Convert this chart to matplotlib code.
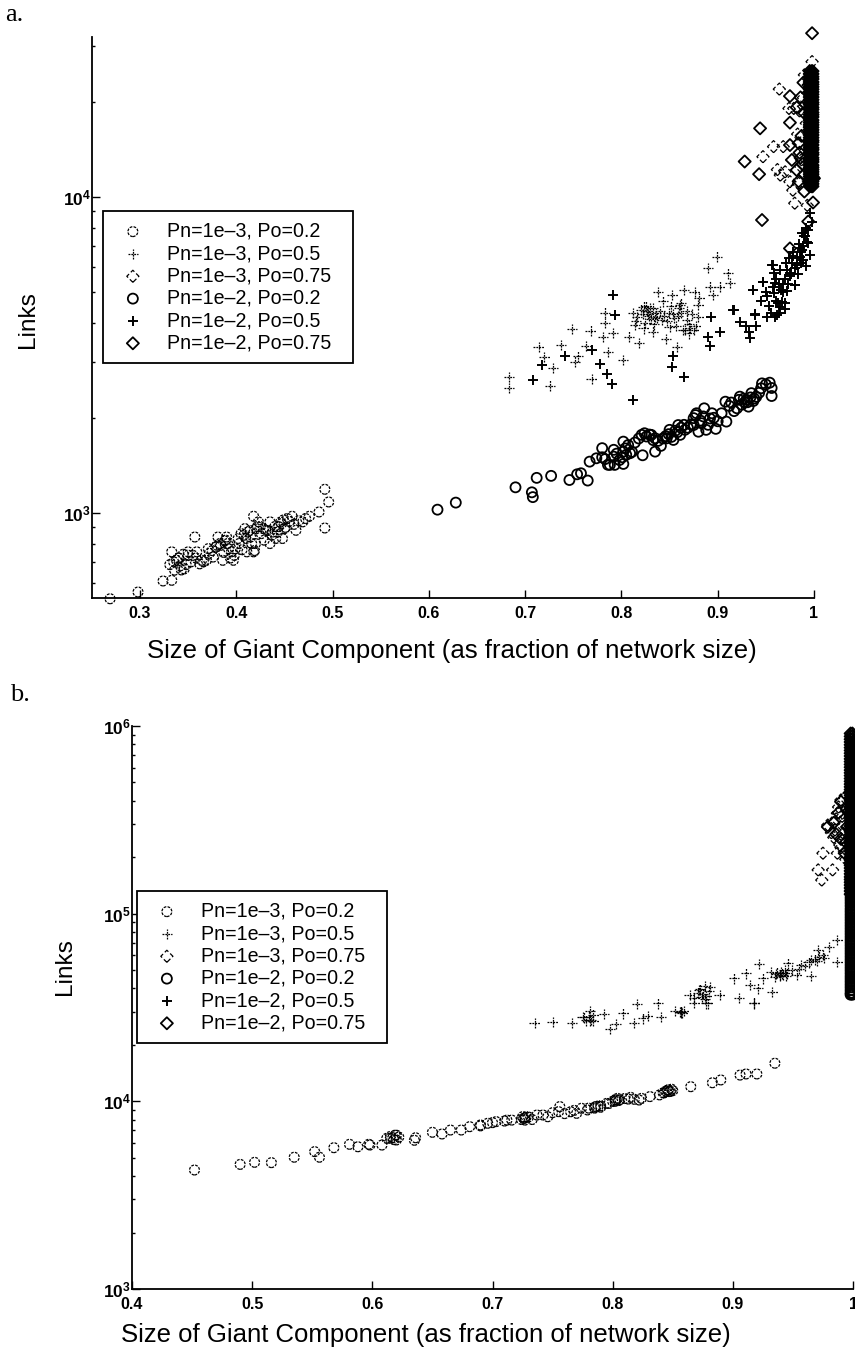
"""
plot.py

Giant component size vs number of links, two log-y scatter panels.
"""

import matplotlib
matplotlib.use("Agg")
import matplotlib.pyplot as plt
from matplotlib.ticker import FixedLocator, NullFormatter

plt.rcParams["font.family"] = ["Liberation Sans", "DejaVu Sans"]
plt.rcParams["mathtext.fontset"] = "custom"
plt.rcParams["mathtext.bf"] = "Liberation Sans:bold"
plt.rcParams["mathtext.rm"] = "Liberation Sans"

W, H = 855, 1350

LABELS = ["Pn=1e\u20133, Po=0.2", "Pn=1e\u20133, Po=0.5", "Pn=1e\u20133, Po=0.75",
          "Pn=1e\u20132, Po=0.2", "Pn=1e\u20132, Po=0.5", "Pn=1e\u20132, Po=0.75"]
XLABEL = "Size of Giant Component (as fraction of network size)"

# -------------------------
# Panel a data
# -------------------------

a1_x = [.269, .298, .324, .333, .331, .333, .338, .336, .348, .343, .357, .350, .355, .359, .364, .369,
        .371, .381, .383, .386, .390, .391, .395, .398, .397, .402, .409, .411, .418, .420, .415, .418,
        .423, .421, .428, .435, .435, .431, .441, .448, .450, .453, .458, .462, .469, .476, .486, .496,
        .492, .492, .340, .345, .375, .380, .388, .392, .405, .410, .414, .425, .438, .444, .447, .449,
        .335, .34, .342, .346, .35, .353, .358, .362, .366, .372, .376, .379, .384, .387, .389, .394, .399,
        .403, .406, .408, .412, .416, .419, .422, .426, .429, .433, .437, .44, .443, .446, .451, .455, .46,
        .465, .472]
a1_y = [535, 562, 609, 612, 686, 753, 708, 659, 686, 660, 839, 753, 734, 753, 708, 708,
        771, 839, 800, 708, 839, 800, 753, 734, 708, 830, 892, 753, 753, 800, 839, 976, 937,
        892, 892, 800, 937, 881, 830, 830, 892, 960, 976, 881, 937, 976, 1007, 1083,
        1188, 896, 720, 740, 760, 790, 815, 770, 860, 830, 880, 905, 870, 905, 925, 950,
        700, 720, 680, 665, 735, 700, 720, 690, 700, 745, 725, 780, 790, 750, 820, 720, 770,
        800, 765, 850, 870, 800, 760, 905, 860, 820, 880, 850, 905, 870, 935, 900, 940, 920,
        945, 960]

a2_x = [.683, .683, .714, .720, .729, .726, .737, .749, .752, .755, .763, .768, .769, .783, .783, .781,
        .786, .791, .802, .808, .816, .814, .818, .823, .823, .833, .833, .838, .835, .842, .843, .846,
        .850, .853, .855, .860, .865, .858, .864, .868, .876, .880, .881, .875, .890, .899, .911, .913,
        .892, .895, .902, .880, .827, .829, .831, .836, .861, .862, .870, .871,
        .812, .815, .82, .822, .825, .826, .828, .83, .834, .837, .84, .844, .847, .849, .852, .854, .857,
        .859, .862, .866, .868, .87, .873, .877]
a2_y = [2698, 2483, 3357, 3112, 2871, 2529, 3404, 3819, 3013, 3126, 3373, 3776, 2649, 4305, 3981, 3597,
        3236, 3707, 3048, 3614, 4178, 3936, 3443, 3837, 4498, 3750, 4446, 5012, 4178, 4083, 4667, 3548,
        3873, 4898, 4130, 4446, 5082, 3342, 3793, 4083, 5012, 4178, 4775, 3793, 5943, 6471, 5728, 5333,
        5200, 4898, 5200, 4550, 4350, 4200, 4100, 4300, 4550, 4300, 3950, 3850,
        4300, 4050, 4400, 4250, 4000, 4500, 4250, 4450, 3950, 4150, 4350, 4200, 4050, 4300, 4500, 4250, 3900,
        4200, 4600, 3800, 4350, 3700, 4250, 3900]

a3_x = [.998, .990, .964, .974, .979, .958, .947, .968, .965, .984, .975, .980, .993, .985, .989, .983,
        .992, .994, .987, .970, .978, .986, .991, .962]
a3_y = [26790, 24320, 21930, 19050, 19050, 14420, 13400, 14420, 11720, 11040, 11170, 9550, 9400, 18700,
        20600, 15800, 17100, 22600, 13100, 12000, 10500, 12500, 14000, 12200]

a4_x = [.609, .628, .690, .707, .708, .712, .727, .746, .754, .758, .765, .767, .774, .780, .780, .788,
        .793, .802, .792, .792, .802, .802, .805, .809, .814, .822, .821, .824, .831, .835, .835, .841,
        .847, .850, .854, .859, .861, .866, .875, .878, .880, .886, .888, .894, .898, .904, .909, .908,
        .914, .920, .923, .930, .932, .935, .946, .954, .956, .956, .875, .883, .945, .950, .938, .928,
        .783, .786, .795, .798, .801, .804, .807, .811, .818, .826, .829, .833, .838, .843, .846, .849, .852,
        .856, .858, .862, .865, .869, .872, .877, .882, .885, .89, .892, .896, .90, .912, .917, .922, .925,
        .927, .931, .934, .937, .94, .943]
a4_y = [1024, 1078, 1205, 1162, 1122, 1291, 1310, 1271, 1325, 1335, 1266, 1453, 1489, 1500, 1603, 1419,
        1419, 1429, 1584, 1507, 1681, 1563, 1527, 1545, 1670, 1522, 1766, 1787, 1766, 1723, 1563, 1630,
        1722, 1832, 1702, 1897, 1766, 1832, 1995, 2067, 1807, 2143, 1832, 2067, 1845, 2067, 1945, 2249,
        2235, 2143, 2333, 2280, 2169, 2393, 2570, 2583, 2485, 2344, 1897, 1923, 2480, 2550, 2300, 2240,
        1480, 1420, 1540, 1470, 1500, 1600, 1640, 1560, 1720, 1745, 1770, 1700, 1690, 1720, 1750, 1775, 1740,
        1820, 1800, 1860, 1900, 1860, 1905, 2040, 1960, 2020, 1900, 1990, 2000, 1950, 2180, 2100, 2280, 2200,
        2300, 2240, 2320, 2260, 2330, 2400]

a5_x = [.708, .791, .793, .769, .741, .718, .778, .785, .790, .812, .854, .853, .865, .890, .892, .902,
        .893, .917, .939, .923, .929, .932, .934, .940, .951, .959, .970, .963, .980, .937, .947, .957,
        .959, .951, .966, .975, .971, .992, .985, .994, .996, .996, .994, .993, .988, .989, .972, .956,
        .982, .965, .957, .947, .937, .980, .965, .916, .939, .962, .975, .968, .985, .978, .990, .998,
        .945, .95, .953, .958, .961, .964, .968, .97, .973, .976, .977, .98, .982, .983, .986, .987, .989, .991,
        .964, .967, .972, .961, .958, .955, .97, .974, .978, .984, .988, .992]
a5_y = [2625, 4898, 4236, 3266, 3126, 2938, 2965, 2754, 2559, 2280, 3126, 2891, 2698, 3597, 3373, 3750,
        4159, 4385, 4266, 4027, 3908, 3750, 3589, 3908, 4159, 4178, 4416, 4603, 5272, 5082, 5395, 6095,
        5333, 4842, 5082, 5728, 6166, 6053, 6471, 7127, 6548, 8890, 7870, 7210, 6790, 6310, 5875, 6095,
        6095, 5875, 5188, 5383, 5082, 5272, 4488, 4385, 4236, 4236, 5600, 5300, 6900, 6500, 7500, 8300,
        4700, 5000, 4500, 4950, 4700, 5300, 5000, 5500, 5300, 5700, 6200, 5950, 6400, 5700, 6700, 6200, 7000, 7500,
        4300, 4650, 5050, 5500, 5750, 4300, 4600, 6400, 6700, 7100, 7700, 8000]

a6_x = [.998, .975, .986, .975, .944, .975, .984, .977, .928, .943, .982, 1.0, .990, .999, .994, .946, .975,
        .985, .988, .984, .987, .990, .982, .989, .986, .990]
a6_y = [32960, 20840, 20650, 17180, 16480, 14590, 14790, 13090, 12940, 11800, 12160, 11450, 10400, 9600, 8360,
        8450, 6870, 13800, 12700, 11200, 15600, 18400, 19200, 23000, 13300, 11800]
# solid block of diamonds at the right edge
a6_col_y = [25000, 24500, 24000, 23600, 23100, 22700, 22300, 21900, 21500, 21100, 20700, 20300, 19900, 19600,
            19200, 18900, 18500, 18200, 17900, 17500, 17200, 16900, 16600, 16300, 16000, 15700, 15400, 15100,
            14900, 14600, 14300, 14100, 13800, 13600, 13300, 13100, 12900, 12600, 12400, 12200, 12000, 11800,
            11600, 11400, 11200, 11000, 10800]
a6_col_x = [.9955, .9975, .9985]

# -------------------------
# Panel b data
# -------------------------

b1_x = [.452, .490, .502, .516, .535, .552, .556, .568, .581, .588, .597, .598, .608, .617, .615, .620,
        .619, .636, .635, .650, .658, .665, .674, .681, .690, .696, .703, .710, .716, .726, .728, .737,
        .712, .725, .727, .742, .746, .755, .756, .770, .774, .779, .786, .785, .795, .803, .804, .813,
        .822, .824, .831, .839, .846, .847, .865, .883, .890, .906, .911, .920, .935, .844, .842, .788,
        .790, .802, .806,
        .612, .615, .618, .62, .622, .724, .727, .73, .733, .78, .785, .79, .797, .80, .802, .805, .81, .815,
        .818, .843, .845, .846, .848, .849, .85, .76, .765, .768, .75, .69, .70]
b1_y = [4305, 4613, 4732, 4713, 5036, 5395, 5036, 5662, 5902, 5728, 5902, 5850, 5848, 6397, 6353, 6223,
        6607, 6397, 6200, 6839, 6699, 7031, 7031, 7328, 7482, 7638, 7798, 7852, 7943, 8110, 8279, 8453,
        7943, 8279, 7943, 8453, 8279, 8810, 9376, 8630, 9183, 8995, 9376, 9200, 9750, 10160, 10370, 10280,
        10160, 10370, 10600, 10820, 11480, 11270, 11970, 12560, 13000, 13800, 13990, 13990, 15960, 11300, 11100,
        9450, 9300, 10000, 10200,
        6350, 6500, 6250, 6600, 6450, 8000, 8150, 8250, 8000, 9200, 9300, 9450, 9750, 10000, 10200, 10100, 10350, 10500,
        10250, 11100, 11300, 11500, 11300, 11600, 11400, 8600, 8800, 8950, 8700, 7400, 7700]

b2_x = [.735, .750, .766, .781, .775, .781, .784, .793, .809, .803, .798, .818, .825, .829, .840, .820,
        .838, .852, .857, .868, .878, .918, .857, .864, .872, .868, .881, .889, .879, .905, .901, .911,
        .914, .918, .921, .922, .925, .933, .932, .939, .946, .949, .953, .957, .965, .965, .972, .971,
        .980, .987, .987, .936, .941, .944, .874, .877,
        .776, .778, .78, .782, .784, .856, .857, .858, .859, .871, .873, .875, .877, .878, .88, .935, .937, .939,
        .94, .942, .943, .945, .955, .96, .963, .968, .97, .975, .976]
b2_y = [26240, 26550, 26060, 30410, 28250, 26920, 26800, 29170, 29430, 25820, 24210, 26240, 27670, 28510,
        28050, 33040, 33270, 30410, 29790, 33570, 33270, 33270, 30060, 36810, 39170, 35400, 40830, 36810, 33270,
        35400, 45190, 48080, 41690, 33570, 39990, 53950, 45190, 38370, 49090, 47100, 54330, 50120, 47100, 53210,
        46560, 56620, 59020, 63970, 66680, 55460, 72440, 47500, 48000, 46500, 36000, 35000,
        28000, 27000, 28300, 27200, 29000, 29800, 30100, 29600, 30300, 38000, 39500, 37500, 41000, 36500, 38500, 46000, 48500, 46500,
        49000, 47000, 50000, 48000, 51000, 52500, 55000, 57000, 56000, 60000, 58000]

b3_x = [.974, .971, .975, .983, .987, .979, .985, .987, .990, .989, .992, .993, .995, .996, .997, .994,
        .986, .988, .991, .984, .982, .990, .993]
b3_y = [151000, 171000, 209900, 171000, 209900, 296500, 279000, 342800, 403600, 232300, 267900, 303400,
        360000, 250000, 440000, 195000, 320000, 370000, 330000, 255000, 270000, 225000, 415000]

# the three bold series pile up in one black column at x = 1
b4_col_y = [160000, 154000, 148000, 143000, 138000, 133000, 127000, 122000, 118000, 114000, 110000, 106000,
            102500, 99000, 95700, 92500, 89300, 86300, 83400, 80600, 77900, 75200, 72700, 70200, 67800, 65500,
            63300, 61200, 59100, 57100, 55200, 53300, 51500, 49800, 48100, 46400, 44900, 43400, 41900, 40500,
            39100, 37800, 37000]
b5_col_y = [240000, 232000, 224000, 216000, 209000, 202000, 195000, 188000, 182000, 176000, 170000, 164000,
            158000, 153000, 148000, 143000, 138000, 133000, 129000, 124000, 120000, 116000, 112000, 108000,
            105000, 101000, 97500, 94200, 91000, 88000, 85000, 82000, 79300, 76600]
b6_col_y = [912000, 880000, 850000, 822000, 794000, 767000, 741000, 716000, 692000, 668000, 646000, 624000,
            603000, 582000, 563000, 544000, 525000, 507000, 490000, 474000, 458000, 442000, 427000, 413000,
            399000, 385000, 372000, 360000, 347000, 336000, 324000, 313000, 303000, 293000, 283000, 273000,
            264000, 255000, 246000, 238000, 230000, 222000, 215000, 207000, 200000, 193000, 187000, 181000,
            175000, 169000, 163000, 157000, 152000, 147000, 142000, 137000, 132000, 127000]
b_col_x = [.998, .9995]

b6_x = [.998, .979, .990, .993, .996, .995, .994, .984, .988, .986, .990]
b6_y = [330000, 290000, 250000, 210000, 350000, 290000, 240000, 305000, 345000, 265000, 395000]

# major tick labels
a_xticks = [.3, .4, .5, .6, .7, .8, .9, 1]
b_xticks = [.4, .5, .6, .7, .8, .9, 1]
a_xlabels = ["0.3", "0.4", "0.5", "0.6", "0.7", "0.8", "0.9", "1"]
b_xlabels = ["0.4", "0.5", "0.6", "0.7", "0.8", "0.9", "1"]
a_yticks = [1e3, 1e4]
b_yticks = [1e3, 1e4, 1e5, 1e6]
a_yminor = [600, 700, 800, 900, 2e3, 3e3, 4e3, 5e3, 6e3, 7e3, 8e3, 9e3, 2e4, 3e4]
b_yminor = [m * d for d in (1e3, 1e4, 1e5) for m in (2, 3, 4, 5, 6, 7, 8, 9)]


def make_axes(fig, left, right, top, bottom):
    return fig.add_axes([left / W, 1 - bottom / H, (right - left) / W, (bottom - top) / H])


def with_column(xs, ys, col_y, col_x):
    # add the pile-up at the right edge to a series
    out_x, out_y = list(xs), list(ys)
    for cx in col_x:
        out_x += [cx] * len(col_y)
        out_y += col_y
    return out_x, out_y


def draw_series(ax, series):
    thin = (0, (2.2, 1.0))
    ax.scatter(series[0][0], series[0][1], marker="o", s=50, facecolors="none", edgecolors="k",
               linewidths=0.9, linestyles=thin, label=LABELS[0], clip_on=False, zorder=3)
    ax.scatter(series[1][0], series[1][1], marker="+", s=55, c="k",
               linewidths=0.9, linestyles=(0, (1.5, 0.8)), label=LABELS[1], clip_on=False, zorder=3)
    ax.scatter(series[2][0], series[2][1], marker="D", s=38, facecolors="none", edgecolors="k",
               linewidths=0.9, linestyles=(0, (4.0, 2.0)), label=LABELS[2], clip_on=False, zorder=3)
    ax.scatter(series[3][0], series[3][1], marker="o", s=52, facecolors="none", edgecolors="k",
               linewidths=1.3, label=LABELS[3], clip_on=False, zorder=4)
    ax.scatter(series[4][0], series[4][1], marker="+", s=60, c="k",
               linewidths=1.4, label=LABELS[4], clip_on=False, zorder=4)
    ax.scatter(series[5][0], series[5][1], marker="D", s=38, facecolors="none", edgecolors="k",
               linewidths=1.3, label=LABELS[5], clip_on=False, zorder=4)


def style_axes(ax, xticks, xlabels, yticks, yminor):
    ax.set_yscale("log")
    for side in ("top", "right"):
        ax.spines[side].set_visible(False)
    for side in ("left", "bottom"):
        ax.spines[side].set_linewidth(1.3)

    ax.xaxis.set_major_locator(FixedLocator(xticks))
    ax.set_xticklabels(xlabels, fontsize=11.5, fontweight="bold")
    ax.yaxis.set_major_locator(FixedLocator(yticks))
    ax.yaxis.set_minor_locator(FixedLocator(yminor))
    ax.yaxis.set_minor_formatter(NullFormatter())
    ax.set_yticklabels([r"$\mathbf{10^{%d}}$" % (len(str(int(t))) - 1) for t in yticks], fontsize=12.5)

    ax.tick_params(axis="x", which="major", direction="in", length=5.5, width=1, pad=6)
    ax.tick_params(axis="y", which="major", direction="in", length=5.5, width=1, pad=1)
    ax.tick_params(axis="y", which="minor", direction="in", length=2.5, width=1)


def add_legend(ax, left, top, right, bottom):
    x0, y0 = ax.transAxes.inverted().transform((left, H - top))
    x1, y1 = ax.transAxes.inverted().transform((right, H - bottom))
    leg = ax.legend(loc="upper left", bbox_to_anchor=(x0, y1, x1 - x0, y0 - y1), mode="expand",
                    borderaxespad=0, fontsize=14.1, frameon=True, fancybox=False, edgecolor="k",
                    framealpha=1, scatterpoints=1, borderpad=0.55, labelspacing=0.17,
                    handletextpad=0.75, handlelength=1.95)
    leg.get_frame().set_linewidth(1.3)
    leg.set_zorder(5)


def main():
    fig = plt.figure(figsize=(W / 100, H / 100), dpi=100)

    # panel a
    ax_a = make_axes(fig, 92, 814, 37, 598)
    a6 = with_column(a6_x, a6_y, a6_col_y, a6_col_x)
    draw_series(ax_a, [(a1_x, a1_y), (a2_x, a2_y), (a3_x, a3_y), (a4_x, a4_y), (a5_x, a5_y), a6])
    style_axes(ax_a, a_xticks, a_xlabels, a_yticks, a_yminor)
    ax_a.set_xlim(.2502, 1.0)
    ax_a.set_ylim(538, 32060)
    ax_a.set_xlabel(XLABEL, fontsize=18.55, va="center")
    ax_a.xaxis.set_label_coords(.4986, -.0945)
    ax_a.set_ylabel("Links", fontsize=17.6, va="center")
    ax_a.yaxis.set_label_coords(-.0886, .4955)
    add_legend(ax_a, 103, 211, 353, 363)

    # panel b
    ax_b = make_axes(fig, 132, 853, 726, 1289)
    b4 = with_column([], [], b4_col_y, b_col_x)
    b5 = with_column([], [], b5_col_y, b_col_x)
    b6 = with_column(b6_x, b6_y, b6_col_y, b_col_x)
    draw_series(ax_b, [(b1_x, b1_y), (b2_x, b2_y), (b3_x, b3_y), b4, b5, b6])
    style_axes(ax_b, b_xticks, b_xlabels, b_yticks, b_yminor)
    ax_b.set_xlim(.4, 1.0)
    ax_b.set_ylim(1e3, 1e6)
    ax_b.set_xlabel(XLABEL, fontsize=18.55, va="center")
    ax_b.xaxis.set_label_coords(.408, -.0815)
    ax_b.set_ylabel("Links", fontsize=17.6, va="center")
    ax_b.yaxis.set_label_coords(-.0929, .572)
    add_legend(ax_b, 137, 891, 387, 1043)

    fig.text(5 / W, 1 - 15 / H, "a.", family="Liberation Serif", fontsize=19, va="center", ha="left")
    fig.text(10 / W, 1 - 695 / H, "b.", family="Liberation Serif", fontsize=19, va="center", ha="left")

    fig.savefig("out.png", dpi=100, facecolor="white")


if __name__ == "__main__":
    main()
